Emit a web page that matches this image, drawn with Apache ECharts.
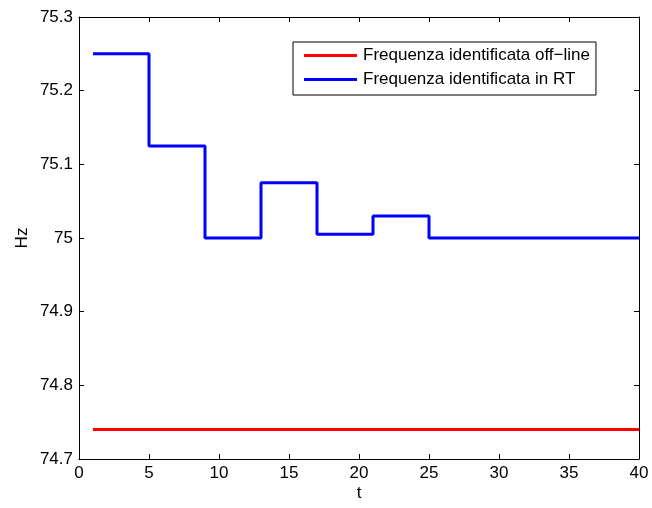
<!DOCTYPE html>
<html><head><meta charset="utf-8">
<script src="https://cdn.jsdelivr.net/npm/echarts@6/dist/echarts.min.js"></script>
<style>html,body{margin:0;padding:0;background:#fff}#c{width:652px;height:508px}</style>
</head><body><div id="c"></div>
<script>
var stepTimes = [1, 5, 9, 13, 17, 21, 25, 40];
var rtFreq = [75.25, 75.125, 75.0, 75.075, 75.005, 75.03, 75.0, 75.0];
var offlineTimes = [1, 40];
var offlineFreq = [74.74, 74.74];
var xTicks = [0, 5, 10, 15, 20, 25, 30, 35, 40];
var yTicks = [74.7, 74.8, 74.9, 75.0, 75.1, 75.2, 75.3];
var seriesNames = ['Frequenza identificata off\u2212line', 'Frequenza identificata in RT'];

var font = 'Liberation Sans, Arial, sans-serif';
var fs = 17;
var chart = echarts.init(document.getElementById('c'));
var axisCommon = {
  axisLine: {show: true, onZero: false, lineStyle: {color: '#000', width: 1}},
  axisTick: {show: true, inside: true, length: 5, lineStyle: {color: '#000'}},
  splitLine: {show: false}
};
function fmt(v){ return String(parseFloat(v.toFixed(2))); }
chart.setOption({
  animation: false,
  backgroundColor: '#fff',
  grid: {left: 79, top: 17, right: 13, bottom: 49, containLabel: false},
  legend: {
    orient: 'vertical', left: 293, top: 42,
    backgroundColor: '#fff',
    borderColor: '#000', borderWidth: 1,
    padding: [5, 6, 7, 11], itemGap: 7,
    itemWidth: 53, itemHeight: 3, icon: 'rect',
    textStyle: {fontFamily: font, fontSize: fs, color: '#000', padding: [0, 0, 0, 1]},
    data: seriesNames
  },
  xAxis: [
    Object.assign({type: 'value', min: 0, max: 40, interval: 5, position: 'bottom',
      name: 't', nameLocation: 'middle', nameGap: 26, nameMoveOverlap: false,
      nameTextStyle: {fontFamily: font, fontSize: fs, color: '#000'},
      axisLabel: {fontFamily: font, fontSize: fs, color: '#000', margin: 6, formatter: fmt}}, axisCommon),
    Object.assign({type: 'value', min: 0, max: 40, interval: 5, position: 'top',
      axisLabel: {show: false}}, axisCommon)
  ],
  yAxis: [
    Object.assign({type: 'value', min: 74.7, max: 75.3, interval: 0.1, position: 'left',
      name: 'Hz', nameLocation: 'middle', nameGap: 48, nameMoveOverlap: false,
      nameTextStyle: {fontFamily: font, fontSize: fs, color: '#000'},
      axisLabel: {fontFamily: font, fontSize: fs, color: '#000', margin: 6, formatter: fmt}}, axisCommon),
    Object.assign({type: 'value', min: 74.7, max: 75.3, interval: 0.1, position: 'right',
      axisLabel: {show: false}}, axisCommon)
  ],
  series: [
    {name: seriesNames[0], type: 'line', xAxisIndex: 0, yAxisIndex: 0,
     data: offlineTimes.map(function(t,i){return [t, offlineFreq[i]];}),
     showSymbol: false, symbol: 'none', color: '#ff0000',
     lineStyle: {color: '#ff0000', width: 3}},
    {name: seriesNames[1], type: 'line', xAxisIndex: 0, yAxisIndex: 0, step: 'end',
     data: stepTimes.map(function(t,i){return [t, rtFreq[i]];}),
     showSymbol: false, symbol: 'none', color: '#0000ff',
     lineStyle: {color: '#0000ff', width: 3}}
  ]
});
</script></body></html>
